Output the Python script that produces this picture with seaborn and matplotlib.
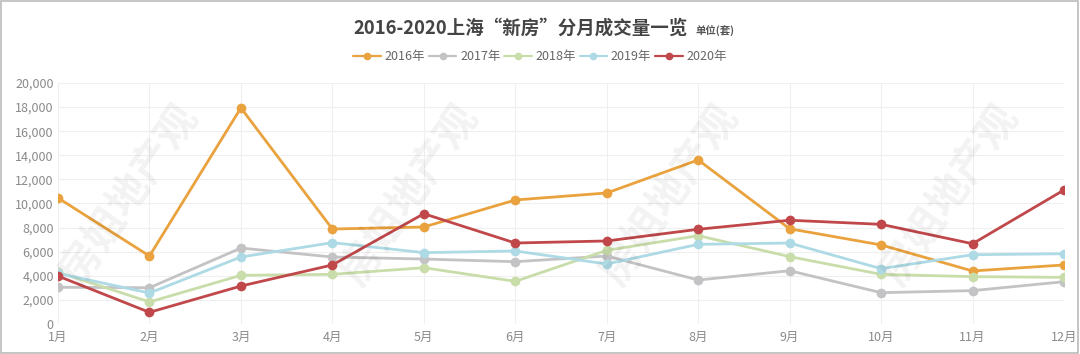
import matplotlib
matplotlib.use("Agg")
import matplotlib.pyplot as plt
import numpy as np
import pandas as pd
import seaborn as sns
from matplotlib.ticker import FuncFormatter

# 月份与各年成交量（套）
months = ["1月", "2月", "3月", "4月", "5月", "6月", "7月", "8月", "9月", "10月", "11月", "12月"]
years = ["2016年", "2017年", "2018年", "2019年", "2020年"]
v2016 = [10460, 5640, 17930, 7880, 8050, 10290, 10870, 13610, 7900, 6560, 4400, 4900]
v2017 = [3050, 3010, 6300, 5560, 5390, 5170, 5640, 3650, 4420, 2600, 2770, 3510]
v2018 = [4300, 1830, 4040, 4120, 4670, 3540, 6110, 7330, 5590, 4120, 3930, 3870]
v2019 = [4200, 2570, 5560, 6750, 5920, 6060, 4980, 6610, 6720, 4590, 5750, 5830]
v2020 = [3980, 970, 3150, 4900, 9150, 6720, 6890, 7860, 8610, 8270, 6660, 11120]
colors = ["#E9A23D", "#C3C3C5", "#C9DDAA", "#ADDAE4", "#C0484B"]

rows = []
for y, vals in zip(years, [v2016, v2017, v2018, v2019, v2020]):
    for i, v in enumerate(vals):
        rows.append({"年份": y, "月序": i, "成交量": v})
df = pd.DataFrame(rows)

sns.set_theme(style="white")
plt.rcParams['font.family'] = ['Noto Sans CJK SC', 'DejaVu Sans']

fig = plt.figure(figsize=(10.8, 3.54), dpi=100)
ax = fig.add_axes([0.0537, 0.0847, 0.9315, 0.681])

# 水印
for wx in [0.12, 0.38, 0.62, 0.88]:
    fig.text(wx, 0.45, "房姐地产观", fontsize=30, fontweight="bold", color="#000000", alpha=0.05,
             rotation=55, ha="center", va="center")

sns.lineplot(data=df, x="月序", y="成交量", hue="年份", palette=colors, marker="o",
             markersize=7, markeredgewidth=0, linewidth=2, ax=ax, legend=False, zorder=3)

ax.set_xlim(0, 11)
ax.set_ylim(0, 20000)
ax.set_xticks(range(12))
ax.set_xticklabels(months)
ax.set_yticks(range(0, 20001, 2000))
ax.yaxis.set_major_formatter(FuncFormatter(lambda v, p: f"{int(v):,}"))
ax.tick_params(axis="both", labelsize=9, colors="#8A8A8A", length=0)
ax.tick_params(axis="x", pad=5)
ax.tick_params(axis="y", pad=3)
ax.set_xlabel("")
ax.set_ylabel("")
ax.grid(True, color="#EFEFEF", linewidth=0.8)
for s in ax.spines.values():
    s.set_visible(False)

# 标题
fig.text(0.637, 0.92, "2016-2020上海“新房”分月成交量一览", ha="right", va="center",
         fontsize=13.3, fontweight="bold", color="#444444")
fig.text(0.644, 0.912, "单位(套)", ha="left", va="center", fontsize=7.5, fontweight="bold", color="#555555")

# 图例
handles = [plt.Line2D([0], [0], color=c, marker="o", markersize=4.5, linewidth=1.6) for c in colors]
fig.legend(handles, years, loc="center", bbox_to_anchor=(0.5, 0.84), ncol=5, frameon=False,
           fontsize=9, labelcolor="#666666", handlelength=2.2, handletextpad=0.3, columnspacing=0.3)

# 外框
fig.patches.append(plt.Rectangle((0.001, 0.002), 0.997, 0.995, transform=fig.transFigure,
                                 fill=False, edgecolor="#BBBBBB", linewidth=1.2))

fig.savefig("out.png", dpi=100)
